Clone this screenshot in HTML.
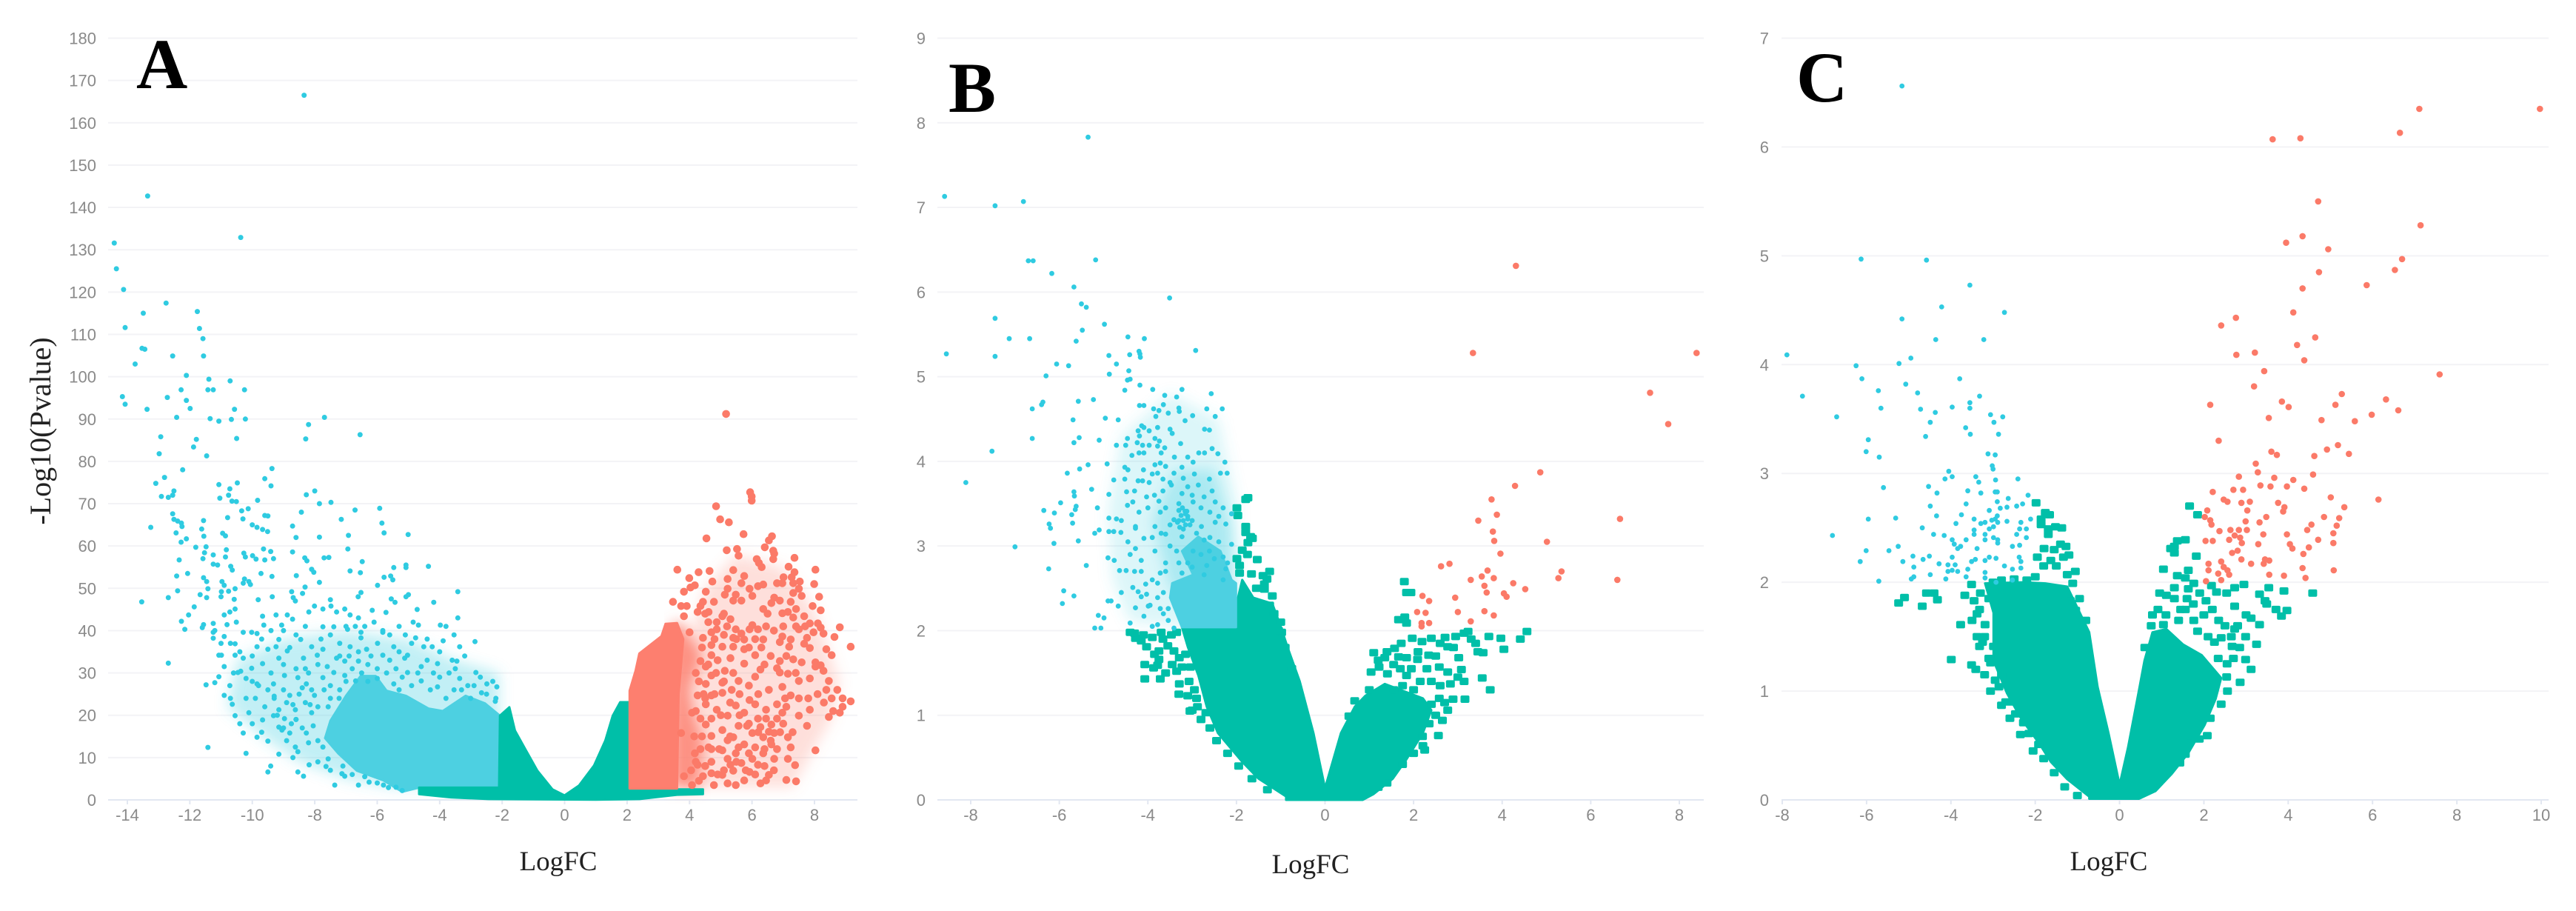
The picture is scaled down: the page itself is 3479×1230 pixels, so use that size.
<!DOCTYPE html>
<html lang="en">
<head>
<meta charset="utf-8">
<title>Volcano plots A, B and C</title>
<style>
html,body{margin:0;padding:0;background:#fff;width:3479px;height:1230px;overflow:hidden}
svg{display:block}
.tick{font-family:"Liberation Sans",sans-serif;font-size:22px;fill:#8a8a8a}
.axis-title{font-family:"Liberation Serif",serif;fill:#222}
.panel-letter{font-family:"Liberation Serif",serif;font-weight:bold;font-size:96px;fill:#000}
</style>
</head>
<body>
<svg id="chart" xmlns="http://www.w3.org/2000/svg" width="3479" height="1230" viewBox="0 0 3479 1230">
<defs><filter id="soft-density" x="-20%" y="-20%" width="140%" height="140%"><feGaussianBlur stdDeviation="9"/></filter></defs>
<rect x="0" y="0" width="3479" height="1230" fill="#ffffff"/>
<g id="panel-a"></g>
<g id="panel-b"></g>
<g id="panel-c"></g>
<text class="panel-letter" x="184" y="119">A</text>
<text class="panel-letter" x="1281" y="151">B</text>
<text class="panel-letter" x="2426" y="137">C</text>
<text class="axis-title" font-size="40" text-anchor="middle" transform="translate(68,582) rotate(-90)">-Log10(Pvalue)</text>
<text class="axis-title" font-size="37" text-anchor="middle" x="754" y="1175">LogFC</text>
<text class="axis-title" font-size="37" text-anchor="middle" x="1770" y="1179">LogFC</text>
<text class="axis-title" font-size="37" text-anchor="middle" x="2848" y="1175">LogFC</text>
</svg>
<script>
const panelAXTicks=[-14,-12,-10,-8,-6,-4,-2,0,2,4,6,8];
const panelAYTicks=[0,10,20,30,40,50,60,70,80,90,100,110,120,130,140,150,160,170,180];
const panelBXTicks=[-8,-6,-4,-2,0,2,4,6,8];
const panelBYTicks=[0,1,2,3,4,5,6,7,8,9];
const panelCXTicks=[-8,-6,-4,-2,0,2,4,6,8,10];
const panelCYTicks=[0,1,2,3,4,5,6,7];

const panelANsAreaX=[-2.1,-2.07,-1.77,-1.59,-1.23,-0.87,-0.39,0,0.46,0.94,1.3,1.54,1.78,2.08,2.08,3.64,4.43,4.43,3.6,2.4,1,-2.43,-3.64,-4.66,-4.66,-2.1];
const panelANsAreaY=[2.9,19.9,21.9,16.4,11.6,6.9,2.5,1.06,3.4,8.1,14,19.9,23.1,23.1,2.5,2.5,2.5,1.35,1.2,0.2,0.05,0.2,0.6,1.35,2.9,2.9];
const panelADownAreaX=[-2.1,-4.66,-5.2,-5.8,-6.65,-7.25,-7.67,-7.5,-7,-6.53,-6.05,-5.7,-5.08,-4.36,-3.9,-3.17,-2.55,-2.07];
const panelADownAreaY=[2.9,2.9,1.9,4.6,6.9,11,14.6,18.7,24.6,29.3,29.3,25.8,24.6,21.6,21,24.6,22.8,19.9];
const panelADownHaloX=[-2.1,-2.1,-3.5,-5,-7,-9,-10.5,-10.8,-9.5,-8.5,-7,-5.5];
const panelADownHaloY=[3,30,33,38,40,38,33,22,14,9,5,3];
const panelAUpAreaX=[2.08,2.08,2.27,2.39,3.1,3.23,3.6,3.8,3.65,3.6];
const panelAUpAreaY=[2.7,25.8,30.5,34.6,38.7,41.6,41.8,38,25,2.7];
const panelAUpBandX=[3.4,4.35,4.45,4.2,4.05,4.4,4.15,3.7,3.4];
const panelAUpBandY=[2.7,2.7,14,20,26,34,37.5,42.2,41];
const panelAUpHaloX=[4.3,7.3,8.6,8.8,8,7,5.5,4.5,4];
const panelAUpHaloY=[3,3,20,28,45,55,58,50,38];

const panelADownX=[
-8.34,-13.35,-10.37,-14.42,-14.35,-14.12,-12.76,-13.49,-11.76,-14.07,
-11.69,-11.58,-13.53,-13.44,-12.55,-11.56,-13.75,-12.11,-11.39,-10.71,
-12.28,-11.42,-11.25,-10.25,-14.16,-12.72,-14.07,-12.11,-11.99,-13.37,
-10.57,-12.42,-11.35,-11.07,-10.67,-10.22,-7.69,-8.2,-6.55,-12.93,
-11.79,-10.5,-8.29,-11.88,-12.98,-11.46,-9.37,-12.23,-13.09,-12.81,
-9.6,-10.48,-11.07,-9.4,-8,-8.27,-10.72,-12.51,-12.55,-12.91,
-12.69,-11.04,-10.76,-10.65,-10.51,-9.83,-7.85,-7.48,-5.92,-6.71,
-10.13,-10.34,-10.3,-8.43,-9.6,-9.5,-12.55,-12.51,-12.39,-12.27,
-12.25,-10.79,-7.15,-5.85,-11.56,-10,-9.85,-9.67,-9.51,-8.71,
-13.25,-11.62,-12.44,-10.95,-10.86,-5.78,-5.01,-6.92,-7.85,-11.55,
-8.6,-12.11,-12.28,-11.81,-11.48,-6.94,-9.64,-9.41,-10.83,-8.71,
-11.53,-10.27,-10.22,-11.25,-10.86,-9.99,-9.88,-8.32,-8.25,-7.7,
-7.55,-11.58,-12.34,-9.32,-9.6,-6.48,-11.25,-11.11,-10.69,-10.64,
-5.08,-5.08,-5.47,-4.36,-8.1,-8.03,-6.87,-6.54,-12.07,-12.42,
-9.72,-9.37,-8.59,-5.78,-5.57,-5.5,-11.56,-11.46,-10.25,-10.11,
-10.29,-10.06,-10.97,-10.9,-7.85,-5.99,-8.31,-11.42,-10.99,-10.76,
-10.55,-12.39,-3.42,-8.74,-8.39,-6.52,-6.61,-5,-5.08,-11.67,
-11.46,-12.69,-11,-13.54,-4.19,-10.58,-9.81,-9.36,-8.69,-8.62,
-7.5,-5.55,-5.43,-11.86,-12.04,-12.27,-12.16,-11.6,-11.56,-11.25,
-11.25,-10.9,-10.72,-10.55,-10.81,-10.51,-9.67,-9.63,-9.24,-9.06,
-8.88,-8.71,-8.01,-8.19,-7.74,-7.48,-7.3,-7.04,-6.87,-6.6,
-6.16,-5.72,-4.72,-7.74,-7.39,-6.95,-6.52,-5.82,-4.85,-4.68,
-3.98,-3.8,-3.42,-11.25,-10.9,-10.55,-10.29,-10.02,-9.85,-10.55,
-11.07,-10.29,-9.85,-9.5,-9.24,-9.15,-8.88,-8.45,-8.1,-7.74,
-7.3,-7.04,-6.87,-6.52,-6.34,-5.99,-5.82,-5.47,-5.03,-4.77,
-4.51,-4.24,-3.89,-3.54,-3.36,-2.87,-3.45,-4.07,-4.59,-5.12,
-5.82,-6.6,-7.92,-8.36,-9.15,-9.67,-10.02,-10.37,-10.99,-10.9,
-11.07,-10.46,-10.2,-9.85,-9.5,-10.72,-10.9,-10.64,-10.55,-10.11,
-9.67,-9.32,-8.97,-8.8,-8.54,-8.27,-8.01,-7.74,-7.39,-7.04,
-6.69,-6,-5.47,-5.03,-4.59,-4.07,-3.36,-2.84,-2.49,-2.17,
-3.54,-3.01,-2.66,-2.22,-8.62,-9.15,-8.1,-7.57,-7.22,-10.29,
-9.85,-10.2,-9.5,-9.15,-9.5,-9.41,-8.54,-8.36,-8.18,-8.54,
-7.36,-6.6,-9.15,-8.8,-8.27,-9.32,-8.97,-8.62,-7.64,-7.04,
-6.26,-5.64,-5.2,-11.42,-12.69,-11.48,-11.2,-7.13,-7.57,-7.74,
-8.4,-8.9,-9.3,-8.3,-8.6,-8.05,-7.9,-8.75,-9.05,-8.15
];
const panelADownY=[
166.5,142.7,132.9,131.6,125.5,120.6,117.4,115,115.4,111.6,
111.4,109,106.7,106.5,104.9,104.9,103,100.3,99.4,99,
96.9,96.9,96.9,96.9,95.3,95.1,93.5,94.4,92.5,92.3,
92.3,90.4,90.1,89.5,89.9,90,90.4,88.7,86.3,85.8,
85.2,85.4,85.3,83.4,81.8,81.3,78.3,78,74.8,76.2,
75.9,74.9,74.5,74.2,73,72.1,73.5,73,72,71.7,
71.5,71.3,72,70.6,70.5,70.8,70,70.3,68.9,68.5,
68.8,68.3,66.4,68,67.2,67.1,67.6,66.3,65.9,65.4,
64.6,66.7,66.3,65.4,66,65,64.4,63.9,63.4,64.7,
64.4,64,63.1,63,62.4,63.1,62.7,62.5,62.1,62.3,
62,61.7,60.9,59.7,59.8,59.3,59.3,58.7,59.1,58.6,
58.4,58.3,57.4,57.9,57.4,57.7,56.9,57.2,56.5,57.2,
57.3,57,56.7,57,56.7,56.3,55.7,55.5,55.2,54.3,
55.5,54.9,54.9,55.2,54.5,53.8,54.1,53.7,53.5,52.9,
53.5,52.8,53,52.6,52.9,52,52.5,51.6,52.2,51.6,
51.2,50.9,51.6,50.7,51.4,50.7,50.3,49.9,49.2,49.3,
49.9,49.4,49.2,49.2,48.8,49,48,48.5,48,48.5,
47.8,47.8,48,46.8,46.7,47.4,47.3,48,47.8,47,
47.3,47.5,46.7,45.6,43.7,42.2,40.3,40.7,41.4,41.7,
39.6,43.7,44.4,45.1,41.4,42,43.4,41.3,43.7,41.3,
43.7,42.7,45.8,44.4,45.1,45.8,44.4,45.1,43.7,43,
44.8,44.3,45,40.9,40.9,40.3,39.6,40,42,41.3,
41.3,41,43,38.2,38.6,36.9,39.6,39.6,39.3,34.2,
34.2,33.5,36.2,35.6,36.2,37.9,35.2,37.9,36.2,35.6,
33.5,32.8,36.2,38.3,35.6,37,39.6,36.2,34.2,38.3,
36.2,36.2,37.6,39,36.2,37.4,32.8,32.2,31.5,33.5,
34.2,32.8,34.2,33.5,33.5,32.2,31.1,30.4,34.2,31.5,
29.1,30.1,28.7,27.4,26,27,24.7,22.6,19.9,20.6,
18.9,27.4,29.4,24.7,28.9,27.4,24.7,28.9,30.1,29.4,
28.1,28.7,27.4,30.1,28.1,26.7,28.7,30.1,27.4,26.7,
26,24,25.3,23.3,21.3,21.3,20.6,22,24,15.8,
14.8,11,13.9,10.8,6.6,8,6.6,5.6,8.3,11.4,
3.5,3.5,17.2,15.8,15.8,19.9,19.2,12.5,7.9,5.6,
4.2,2.9,2.2,12.4,32.3,27.2,27.7,6.2,9.7,12.5,
26.5,23,24,31,19,17.5,14,18,16.5,22.5
];
const panelADownExtraX=[
-9.9,-9.6,-9.3,-9,-8.7,-8.5,-8.3,-8.1,-7.9,-7.7,
-7.5,-7.2,-7,-6.8,-6.5,-6.3,-6,-5.7,-5.4,-5.2,
-4.9,-4.7,-4.4,-4.2,-4,-3.7,-3.5,-3.3,-3.1,-2.9,
-2.7,-2.5,-2.3,-2.2,-3.8,-4.3,-5.3,-6.3,-7.5,-8.6,
-9,-8.4,-8.9,-8.2,-8.7,-7.9,-7.5,-7.1,-6.8,-6.4,
-6,-5.8,-5.4,-9.7,-10,-10.4,-10.7,-10.2,-9.8,-9.4,
-9,-8.6,-8.2,-7.9,-7.6,-7.2,-6.9,-6.6,-6.2,-5.6,
-5.3,-4.9,-4.4,-4,-3.6,-3.2,-10,-9.7,-9.4,-9,
-8.6,-8.3,-7.8,-7.5,-7.2,-7,-6.7,-6.4,-6.1,-5.6,
-5.3,-5.1,-10.6,-10,-9.2,-11.2,-11,-10.7,-10.4,-8.8
];
const panelADownExtraY=[
24,22,24.5,26,22.5,25,23,26,22,26,
27,26,28,31,30,32,31,30,31,29,
27,30,33,30,29,30,31,26,27,27,
29,25,28,24,24,26,26,28,24,19,
17,17,14,13.5,10,9,7,8,6,5.5,
4,3.5,3,16,18,18,24,24,27,30,
32,31,30,32,31.5,34,34,35,34,33,
35,37,38,35,33,34,34,38,40,40,
39,41,38,39,37,41,41,41,42,39,
41,39,30,28,20,40,37,37,35,36
];
const panelAUpX=[
5.17,5.94,5.99,5.99,4.85,4.98,5.26,5.73,6.64,6.54,
6.41,4.54,5.52,5.19,6.68,6.71,6.68,5.57,6.15,6.22,
6.31,7.36,7.17,7.36,8.03,3.61,4.29,4.64,5.4,3.99,
4.73,5.22,5.75,5.66,7.01,6.97,7.27,7.32,7.53,7.99,
8.15,4.17,4.03,6.36,6.19,5.92,6.8,3.82,4.52,5.22,
5.13,5.48,7.5,7.32,7.59,6.01,6.71,6.89,6.62,7.24,
3.47,3.73,3.91,4.43,4.78,4.35,4.61,4.26,5.66,5.4,
7.94,8.2,7.41,7.15,6.97,3.82,5.05,5.31,4.87,6.36,
7.32,7.67,7.85,8.11,8.2,8.81,8.64,9.16,6.01,6.19,
5.48,5.66,5.92,6.45,7.41,7.5,7.97,8.29,8.38,8.55,
4.87,4.7,5.4,5.75,6.36,6.97,7.24,7.76,4.7,5.05,
5.4,5.75,6.1,6.89,7.19,7.67,7.85,4.7,5.31,5.75,
6.89,6.8,7.32,7.59,8.03,8.2,4.52,5.13,6.27,6.89,
7.15,8.03,8.29,4.52,5.05,5.57,6.1,6.97,7.5,7.85,
8.46,4.7,5.05,5.92,6.54,7.06,8.38,8.73,4.52,4.87,
5.48,6.1,6.8,7.24,8.55,8.9,9.16,4.7,5.22,5.75,
6.45,6.97,7.5,7.85,8.46,8.81,7.76,4.52,5.05,5.57,
6.19,6.62,7.15,6.01,6.71,6.36,4.7,5.22,5.75,4.61,
5.05,5.48,6.1,6.62,7.24,8.03,4.17,4.26,4.7,5.31,
6.01,6.71,7.38,4.43,4.78,5.22,5.48,5.75,6.27,6.45,
6.54,7.1,7.41,5.92,5.4,5.05,4.7,3.82,4.08,3.73,
4.35,4.08,4.26,4.7,4.35,4.43,4,6.45,6.8,6.27,
6.54,5.84,5.4,5.57,5.22,5.66,6.19,6.36,7.15,4.2,
4.45,4.15,4.35,4.5,4.05,4.3,4.85,4.95,5.1,5.35
];
const panelAUpY=[
91.2,72.7,71.7,70.7,69.4,66.3,65.6,62.8,62.3,61.3,
59.7,61.8,59.3,59,58.9,58.2,56.9,57.7,56.9,56,
55,57.2,55.1,53.8,54.4,54.4,53.8,54.1,54.3,52.4,
51.6,52.2,52.9,51.2,52.6,51.2,52.6,51.2,51.6,51,
48,50.7,50.2,50.9,50.5,49.9,51.2,49.2,49.2,49.9,
48.5,48.5,49.9,48.9,48.2,48.2,47.8,47.1,46.5,46.8,
46.8,45.8,45.8,46.8,46.8,45.8,44.4,44.4,47.1,47.1,
45.8,44.8,45.1,44.4,44.1,43.4,43.4,42.7,42,45.1,
43.1,43.4,41.7,41.7,40.7,40.8,38.5,36.2,41.3,40.3,
40.3,39.3,40.3,41,41,40.3,39.6,39.3,35.6,34.2,
40.3,39.6,38.3,37.9,37.9,38.6,37.9,38.3,36.6,36.2,
36.2,35.6,34.2,37.3,36.2,36.9,35.9,34.2,33.5,32.2,
32.8,31.1,33.2,32.5,32.5,31.8,31.5,30.5,30.8,30.1,
29.8,31.5,30.5,27.4,27.7,28.1,29.1,26.7,28.1,28.7,
28.1,24.7,25.3,23.6,26,24,26,26,22.6,21.3,
22.3,22.6,22.6,24.7,24,24,23.3,19.2,19.9,20.6,
21.3,20.6,19.9,21.3,19.6,20.6,17.5,17.8,16.5,17.5,
19.2,17.8,14.8,15.8,15.8,14.8,15.1,14.1,13.1,12.4,
11.7,11,12.4,13.1,12.4,11.7,11,8.3,9,8.3,
9.7,9.7,8.2,5.6,3.5,3.9,3.5,4.6,3.9,4.6,
5.9,4.7,4.4,6.6,6.9,5.9,6.3,5.6,3.5,15.8,
19.2,20.6,24.7,29.4,32.8,38.3,39.6,19.2,19.2,17.2,
16.1,17.5,14.8,12.4,9.7,8.7,8.3,11,9.7,30,
25,15,12,8,7,4.5,30,12,7,26
];
const panelAUpExtraX=[
4.4,4.6,4.9,4.3,4.5,4.8,4.2,4.4,4.7,4.2,
4.5,4.9,5,5.3,5.1,5.4,5.6,5.9,6.2,5.6,
5.3,5.9,6.2,6.6,6.9,6.4,6.8,5.9,5.5,5.8,
6.1,6.4,6.7,7,7.3,7.1,7.5,7.8,8.1,8.3,
8.6,8.9,7.4,7.1,6.6,6.3,5.9,5.5,5.1,4.8,
4.6,5.2,6.7,7,7.7,6.1,6.4,5.1,4.5,6.5
];
const panelAUpExtraY=[
36,32,33,28,24,25,21,15,12,9,
8,6,20,23,28,30,25,27,25,20,
15,18,16,14,16,12,12,11,9,7,
6,8,7,18,16,22,24,24,25,23,
21,22,30,34,34,36,36,38,39,38,
42,41,40,41,41,38,32,44,44,44
];

const panelBNsAreaX=[0,-0.26,-0.57,-0.85,-1,-1.19,-1.62,-1.87,-2.01,-2.01,-3.23,-3.1,-2.86,-2.67,-2.42,-1.87,-1.5,-0.88,-0.88,0.85,1.1,1.53,1.84,2.21,2.4,2.21,1.35,0.91,0.67,0.36];
const panelBNsAreaY=[0.14,0.79,1.4,1.81,2.05,2.32,2.39,2.6,2.29,2.04,2.04,1.81,1.47,1.1,0.79,0.45,0.25,0.04,0,0,0.07,0.25,0.48,0.79,1.06,1.2,1.37,1.23,1.1,0.79];
const panelBDownAreaX=[-2.01,-3.23,-3.5,-3.45,-2.98,-3.23,-2.86,-2.36,-2.11,-2.01];
const panelBDownAreaY=[2.04,2.04,2.39,2.56,2.66,2.94,3.11,2.94,2.6,2.56];
const panelBDownHaloX=[-2,-3.3,-4.4,-4.8,-4.9,-4.6,-3.5,-2.4,-2];
const panelBDownHaloY=[2.05,2.05,2.1,2.6,3.4,4.3,4.8,4.5,3.5];
const panelBDownCoreX=[-2.05,-3.5,-3.9,-3.4,-2.5,-2.1];
const panelBDownCoreY=[2.05,2.5,3.3,3.9,3.9,3.2];
const panelBNsX=[
-1.79,-1.74,-1.99,-1.97,-1.79,-1.79,-1.68,-1.64,-1.74,-1.87,
-1.99,-1.53,-1.93,-1.93,-1.66,-1.25,-1.31,-1.37,-1.37,-1.19,
-1.5,-1,-0.98,-4.4,-4.28,-4.15,-4.03,-3.75,-3.66,-3.47,
-3.35,-3.75,-3.78,-4.07,-3.87,-4.07,-3.72,-3.41,-3.29,-3.23,
-3.35,-3.04,-3.29,-3.07,-3.1,-3,-2.88,-2.69,1.79,1.84,
1.94,1.66,1.8,1.84,1.1,1.57,1.72,1.97,2.19,2.4,
2.71,2.95,3.14,3.23,3.7,3.97,4.56,4.41,4.04,3.45,
3.57,3.02,2.77,2.34,2.09,1.84,1.66,1.35,1.22,1.04,
1.41,1.84,2.15,2.58,2.77,3.08,3.55,3.73,3.14,2.83,
2.58,2.89,3.16,2.77,2.65,2.56,2.21,2.25,2.4,0.67,0.54
];
const panelBNsY=[
3.55,3.57,3.45,3.36,3.23,3.16,3.11,3.09,3.04,2.95,
2.85,2.84,2.77,2.68,2.67,2.7,2.61,2.55,2.49,2.41,
2.27,2.1,1.98,1.98,1.91,1.88,1.81,1.76,1.9,1.95,
1.98,1.66,1.59,1.6,1.56,1.43,1.43,1.76,1.68,1.57,
1.52,1.57,1.37,1.4,1.23,1.06,1.1,1.03,2.58,2.45,
2.45,2.13,2.16,2.09,1.74,1.79,1.85,1.91,1.87,1.91,
1.92,1.93,1.97,1.99,1.93,1.91,1.99,1.9,1.78,1.75,
1.74,1.68,1.81,1.71,1.66,1.68,1.69,1.68,1.57,1.51,
1.49,1.47,1.4,1.57,1.51,1.54,1.44,1.3,1.4,1.37,
1.2,1.19,1.19,1.06,0.94,0.76,0.64,0.59,1.13,1.17,0.99
];
const panelBNsExtraX=[
-4.3,-4.1,-3.9,-3.7,-3.55,-3.45,-3.15,-3.6,-3.85,-3.3,
-2.95,-2.8,-2.6,-2.45,-2.2,-1.95,-1.65,-1.3,-2.9,-3.05,
-1.55,-1.25,-1.15,-1.05,-0.9,-0.75,-1.4,-1.75,1.2,1.4,
1.55,1.7,1.95,2.1,2.3,2.5,2.6,2.9,3.3,3.4,
3,2.6,2.4,2,1.75,1.55,2.7,2.5,2.35,2.2,
2,1.75,1.4,1.2,0.8,1
];
const panelBNsExtraY=[
1.97,1.95,1.92,1.98,1.82,1.6,1.72,1.5,1.72,1.25,
1.3,0.95,0.85,0.7,0.55,0.4,0.25,0.12,1.2,1.05,
2.5,2.3,2.2,2,1.8,1.55,2.65,2.9,1.65,1.75,
1.6,1.55,1.55,1.75,1.55,1.7,1.85,1.8,1.9,1.85,
1.45,1.35,1.4,1.3,1.35,1.3,1.15,1,0.9,0.75,
0.55,0.42,0.2,0.15,1.1,1.3
];
const panelBDownX=[
-5.35,-8.59,-7.45,-6.81,-6.7,-6.59,-5.18,-6.17,-5.67,-3.51,
-5.5,-5.39,-7.45,-4.98,-5.48,-4.45,-4.08,-7.13,-6.67,-5.62,
-8.55,-7.45,-2.92,-4.2,-4.18,-4.17,-4.41,-4.88,-6.06,-5.79,
-4.71,-6.3,-4.87,-4.43,-4.46,-4.4,-4.18,-3.89,-3.23,-4.52,
-2.57,-3.62,-3.35,-5.23,-5.57,-6.37,-6.4,-6.61,-4.19,-4.09,
-3.65,-3.3,-3.87,-3.75,-2.67,-2.32,-3.29,-3.54,-2.99,-3.82,
-2.48,-5.69,-4.96,-4.67,-3.16,-4.14,-4.09,-4.22,-3.97,-3.78,
-3.5,-2.72,-2.61,-3.45,-6.61,-5.55,-4.46,-4.19,-3.84,-3.74,
-5.1,-5.67,-4.24,-3.26,-4.71,-4.5,-4.12,-3.97,-3.78,-3.62,
-7.52,-2.72,-2.42,-4.09,-4.36,-8.11,-7,-5.82,-5.54,-5.35,
-4.77,-4.52,-4.92,-4.52,-4.22,-4.12,-5.27,-5.67,-5.66,-4.88,
-4.48,-5.97,-5.62,-5.14,-6.35,-6.11,-5.72,-5.64,-4.88,-4.71,
-6.23,-6.2,-5.7,-4.28,-5.2,-5.1,-4.88,-4.77,-4.61,-6.12,
-5.57,-5.39,-6.24,-4.9,-4.76,-4.64,-4.49,-5.9,-5.67,-5.93,
-4.9,-4.83,-4.67,-5.12,-4.99,-5.2,-5.06,-3.84,-3.72,-3.6,
-2.98,-2.26,-2.36,-2.21,-2.61,-3.23,-3.41,-3.78,-3.66,-3.97,
-3.47,-3.1,-2.86,-2.55,-2.73,-3.23,-3.66,-4.03,-3.75,-4.34,
-4.46,-2.98,-2.48,-2.3,-2.11,-3.16,-3.72,-3.41,-3.1,-2.79,
-2.48,-2.24,-3.84,-4.28,-4.09,-3.6,-3.23,-2.73,-2.11,-4.28,
-3.84,-3.35,-2.98,-2.61,-2.3,-4.4,-4.15,-3.6,-3.1,-2.67,
-2.24,-4.15,-3.72,-3.23,-2.73,-2.3,-3.78,-4.34,-4.22,-4.03,
-3.78,-4.28,-3.99,-3.72,-4.09,-4.4,-3.78,-3.54,-3.41,-3.54,
-3.3,-3.25,-3.2,-3.15,-3.1,-3.33,-3.05,-3.22,-3.12,-3.28
];
const panelBDownY=[
7.83,7.13,7.02,7.07,6.37,6.37,6.38,6.22,6.06,5.93,
5.86,5.82,5.69,5.62,5.55,5.47,5.45,5.45,5.45,5.42,
5.27,5.24,5.31,5.3,5.27,5.23,5.26,5.25,5.15,5.13,
5.15,5.01,5.03,5.07,4.96,4.97,4.9,4.85,4.85,4.84,
4.8,4.78,4.76,4.73,4.71,4.7,4.67,4.62,4.66,4.66,
4.67,4.63,4.62,4.6,4.62,4.62,4.59,4.57,4.54,4.53,
4.53,4.49,4.51,4.49,4.48,4.42,4.4,4.36,4.36,4.4,
4.38,4.38,4.37,4.33,4.27,4.28,4.27,4.3,4.27,4.24,
4.25,4.22,4.22,4.21,4.19,4.19,4.19,4.19,4.18,4.16,
4.12,4.1,4.09,4.1,4.07,3.75,2.99,3.86,3.91,3.96,
3.78,3.79,3.97,3.93,3.77,3.77,3.67,3.64,3.59,3.61,
3.64,3.51,3.47,3.45,3.42,3.39,3.37,3.43,3.33,3.32,
3.26,3.21,3.27,3.23,3.15,3.19,3.17,3.17,3.16,3.03,
3.06,2.77,2.73,2.86,2.83,2.71,2.71,2.47,2.41,2.32,
2.35,2.35,2.29,2.18,2.15,2.03,2.03,3.96,3.98,3.94,
3.99,3.99,3.86,3.86,3.79,3.93,3.86,3.86,3.79,3.75,
3.72,3.7,3.72,3.65,3.58,3.62,3.65,3.58,3.53,3.52,
3.48,3.52,3.52,3.45,3.38,3.41,3.4,3.31,3.35,3.23,
3.28,3.26,3.23,3.21,3.09,3.14,3.11,3.07,3.02,2.97,
2.94,2.94,2.94,2.94,2.87,2.9,2.83,2.8,2.8,2.77,
2.73,2.7,2.68,2.68,2.66,2.6,2.56,2.51,2.46,2.43,
2.39,2.27,2.29,2.26,2.17,2.09,2.07,2.12,2.03,2.26,
3.42,3.36,3.3,3.38,3.32,3.28,3.25,3.45,3.41,3.22
];
const panelBDownExtraX=[
-3.9,-3.6,-3.3,-3,-2.8,-2.5,-2.2,-3.5,-3.2,-3.3,
-3.15,-3,-2.9,-2.6,-2.4,-3.9,-3.7,-3.5,-3.6,-3.3,
-3,-2.8,-2.6,-2.4,-4.2,-4,-3.85,-3.5,-3.2,-2.95,
-4.1,-3.9,-3.4,-3.1,-2.85,-3.7,-4.2,-2.55,-4.45,-4.3,
-4.6,-4.45,-4.3,-4.05,-3.95,-4.15,-3.65,-3.9,-3.65,-4.6
];
const panelBDownExtraY=[
2.6,2.7,2.8,2.75,2.9,2.85,2.8,3,3.2,3.3,
3.25,3.3,3.15,3.1,3.05,3.1,3.15,3.25,3.45,3.5,
3.6,3.45,3.4,3.35,3.4,3.45,3.6,3.75,3.8,3.85,
3.9,3.85,4.05,4.05,4.1,4.1,4.1,4.15,3.9,3.65,
3.3,3.05,2.7,2.55,2.3,2.4,2.45,2.05,2.2,2.45
];
const panelBUpX=[
4.31,3.34,8.39,7.34,7.75,4.86,4.29,3.76,3.88,3.46,
6.66,3.79,3.82,5.01,3.96,2.81,2.62,5.34,3.67,3.54,
3.29,3.81,5.27,6.6,4.25,3.6,4.52,3.65,4.04,4.1,
2.2,2.94,2.35,3,3.6,2.08,2.27,3.81,3.29,2.35,
2.18,2.18
];
const panelBUpY=[
6.31,5.28,5.28,4.81,4.44,3.87,3.71,3.55,3.37,3.3,
3.32,3.17,3.06,3.05,2.91,2.79,2.76,2.7,2.71,2.64,
2.6,2.62,2.62,2.6,2.56,2.53,2.49,2.45,2.44,2.4,
2.41,2.39,2.35,2.22,2.23,2.22,2.21,2.18,2.11,2.09,
2.09,2.05
];

const panelCNsAreaX=[0,-0.26,-0.52,-0.72,-0.98,-1.24,-1.76,-2.28,-3.19,-2.99,-2.99,-2.67,-2.34,-1.89,-1.63,-1.24,-0.72,-0.72,0.46,0.85,1.24,1.63,2.02,2.28,2.41,1.95,1.5,1.11,0.78,0.59,0.46,0.2];
const panelCNsAreaY=[0.14,0.61,1.04,1.54,1.75,1.96,1.99,2,1.99,1.72,1.28,0.98,0.75,0.51,0.35,0.19,0.03,0.01,0.01,0.08,0.24,0.43,0.69,0.93,1.12,1.33,1.43,1.57,1.54,1.28,1.01,0.48];
const panelCNsX=[
-1.98,-1.76,-1.66,-1.86,-1.86,-1.69,-1.52,-1.37,-1.69,-1.27,
-1.79,-1.95,-1.33,-1.63,-1.5,-1.24,-1.11,-1.17,-1.04,-5.24,
-5.1,-4.68,-4.58,-4.4,-4.32,-3.51,-3.67,-3.45,-3.32,-3.77,
-3.38,-3.19,-3.38,-3.25,-3.32,-3.99,-3.51,-3.41,-3.06,-3.06,
-2.86,-2.8,-2.54,-2.47,-2.28,-2.15,-1.92,-2.99,1.66,1.85,
1.56,1.37,1.3,1.21,1.3,1.82,1.04,1.37,1.63,1.56,
1.76,2.18,1.63,1.11,1.56,0.91,0.78,1.04,1.76,2.05,
2.3,2.54,2.73,2.95,2.73,3.32,3.54,3.9,4.58,3.49,
3.71,3.97,3.84,3.12,3.32,2.73,2.99,3.25,2.67,2.99,
3.12,2.54,2.86,2.56,2.41,2.15,2.08,1.89,1.65,1.56,
1.43,1.11,3.45,2.41,2.34
];
const panelCNsY=[
2.73,2.64,2.62,2.58,2.53,2.49,2.51,2.5,2.44,2.33,
2.31,2.23,2.23,2.2,2.15,2.07,1.99,1.83,1.74,1.81,
1.86,1.78,1.9,1.9,1.84,1.98,1.88,1.83,1.75,1.61,
1.71,1.61,1.5,1.45,1.41,1.29,1.24,1.2,1.26,1,
1.04,0.87,0.9,0.79,0.71,0.61,0.51,1.41,2.7,2.62,
2.39,2.38,2.33,2.31,2.27,2.24,2.12,2.06,2.11,2.04,
1.99,1.97,1.94,1.88,1.75,1.75,1.7,1.61,1.65,1.83,
1.91,1.9,1.95,1.98,1.78,1.89,1.95,1.92,1.9,1.8,
1.75,1.74,1.69,1.67,1.61,1.57,1.5,1.43,1.41,1.29,
1.2,1.13,1.08,1,0.88,0.75,0.59,0.56,0.52,0.42,
0.34,0.27,1.83,1.49,1.3
];
const panelCNsExtraX=[
-3.3,-3.1,-3.5,-3.2,-3.1,-3.2,-2.95,-2.8,-2.7,-2.6,
-2.35,-2.05,-1.8,-1.55,-1.3,-1,-0.8,-0.95,-1.05,-1.2,
-1.4,-1.55,-1.8,-2,-2.2,-2.5,-2.8,-3,0.95,1.1,
1.3,1.45,1.6,1.75,1.9,2,2.2,2.35,2.5,2.65,
2.8,3,2.85,2.7,2.55,1.4,2.25,2.1,1.85,1.3,0.75,0.6
];
const panelCNsExtraY=[
1.9,1.85,1.65,1.5,1.3,1.15,1.1,1.15,0.9,0.75,
0.6,0.45,0.38,0.25,0.12,0.04,1.65,1.85,2.1,2.25,
2.35,2.3,2.15,2.05,2.02,2.03,2.02,2,1.9,1.7,
1.85,1.75,1.85,1.8,1.9,1.7,1.75,1.65,1.6,1.5,
1.6,1.7,1.4,1.3,1.25,1.65,1.45,1.5,1.55,1.95,1.6,1.4
];
const panelCDownX=[
-5.16,-6.13,-4.58,-3.55,-4.22,-2.73,-5.16,-4.36,-3.22,-7.89,
-4.95,-6.25,-5.23,-6.11,-3.79,-5.07,-5.72,-4.79,-7.52,-3.32,
-3.55,-5.66,-4.72,-3.97,-3.55,-4.37,-3.06,-2.77,-6.71,-4.49,
-2.98,-3.65,-3.54,-2.87,-4.6,-5.96,-6.01,-3.12,-2.95,-5.7,
-3.02,-3,-4.05,-4.14,-3.97,-3.41,-2.41,-3.34,-2.94,-5.6,
-4.53,-3.6,-4.33,-3.29,-2.95,-2.9,-2.17,-2.64,-2.9,-2.3,
-2.44,-3.64,-4.49,-3.09,-2.83,-2.67,-3.75,-4.34,-2.9,-2.95,
-3.45,-3.03,-5.96,-5.31,-2.11,-3.88,-3.19,-2.89,-2.67,-2.34,
-3.29,-4.68,-3.45,-3.09,-2.99,-2.37,-2.21,-6.81,-4.41,-4.16,
-3.45,-3.19,-2.44,-3.97,-3.64,-2.99,-3.19,-2.89,-2.21,-3.92,
-3.77,-3.38,-2.89,-2.54,-2.37,-5.25,-6.01,-5.47,-3.84,-6.15,
-5.14,-4.9,-4.66,-4.51,-4.88,-4.28,-3.97,-4.07,-3.9,-3.51,
-3.42,-3.19,-3.09,-2.93,-2.38,-2.34,-3.6,-3.97,-3.84,-4.07,
-4.49,-4.88,-4.94,-5.71,-3.64,-4.12,-3.19,-2.54,-2.34,-2.73,
-3.19,-2.93,-2.54
];
const panelCDownY=[
6.56,4.97,4.96,4.73,4.53,4.48,4.42,4.23,4.23,4.09,
4.06,3.99,4.01,3.87,3.87,3.82,3.76,3.74,3.71,3.71,
3.65,3.6,3.59,3.61,3.6,3.56,3.54,3.52,3.52,3.47,
3.47,3.42,3.36,3.36,3.34,3.31,3.2,3.18,3.17,3.15,
3.07,3.04,3.02,2.95,2.97,2.97,2.95,2.92,2.94,2.87,
2.88,2.84,2.82,2.82,2.83,2.83,2.8,2.77,2.74,2.72,
2.7,2.72,2.7,2.66,2.68,2.69,2.62,2.61,2.61,2.58,
2.58,2.57,2.58,2.59,2.58,2.54,2.55,2.55,2.56,2.55,
2.54,2.5,2.48,2.49,2.51,2.49,2.49,2.43,2.44,2.43,
2.44,2.44,2.44,2.39,2.39,2.41,2.39,2.39,2.41,2.35,
2.33,2.31,2.36,2.33,2.34,2.33,2.29,2.29,2.31,2.19,
2.19,2.24,2.21,2.24,2.14,2.17,2.23,2.16,2.16,2.19,
2.21,2.2,2.23,2.22,2.23,2.19,2.12,2.11,2.1,2.1,
2.07,2.05,2.03,2.01,2.05,2.03,2.04,2.12,2.13,2.15,
2.09,2,2.02
];
const panelCUpX=[
3.63,4.29,6.65,7.11,9.97,4.71,7.14,4.34,3.95,4.95,
6.7,6.53,4.73,5.86,4.34,4.12,2.76,2.41,4.64,4.21,
3.21,2.77,4.38,3.43,7.59,3.19,5.27,6.32,3.85,4.01,
2.15,5.12,6.61,5.98,3.54,4.79,5.58,2.35,5.18,4.92,
3.6,3.73,4.62,5.44,3.23,3.28,4.59,2.83,3.67,4.12,
3.34,3.58,3.97,2.21,2.7,2.93,4.38,5.01,6.14,2.47,
2.56,2.89,3.09,3.76,3.91,3.88,5.33,3.03,2.08,2.02,
3.48,4.85,5.21,2.15,2.18,2.99,3.32,4.55,5.15,2.63,
2.83,3.02,2.37,4.45,3.97,5.07,3.41,2.73,2.86,2.6,
4.71,5.07,2.04,2.21,2.9,3.29,4.04,4.1,4.49,4.36,
2.8,2.67,2.89,3.45,3.55,2.11,2.41,3.12,3.42,2.11,
2.47,2.56,4.34,5.08,2.34,2.6,3.55,3.9,4.41,2.05,2.41
];
const panelCUpY=[
6.07,6.08,6.13,6.35,6.35,5.5,5.28,5.18,5.12,5.06,
4.97,4.87,4.85,4.73,4.7,4.48,4.43,4.36,4.25,4.18,
4.11,4.09,4.04,3.94,3.91,3.8,3.73,3.68,3.66,3.61,
3.63,3.63,3.58,3.54,3.51,3.49,3.48,3.3,3.26,3.22,
3.2,3.17,3.16,3.18,3.09,3.01,2.99,2.97,2.96,2.94,
2.89,2.88,2.88,2.83,2.85,2.85,2.86,2.78,2.76,2.76,
2.74,2.73,2.74,2.73,2.69,2.65,2.69,2.66,2.66,2.6,
2.6,2.6,2.59,2.57,2.53,2.56,2.55,2.53,2.52,2.48,
2.48,2.48,2.47,2.48,2.44,2.45,2.44,2.43,2.41,2.39,
2.39,2.36,2.38,2.38,2.36,2.35,2.35,2.31,2.32,2.26,
2.29,2.27,2.21,2.21,2.2,2.17,2.19,2.17,2.17,2.11,
2.14,2.11,2.13,2.11,2.08,2.07,2.07,2.06,2.04,2.01,2.02
];

const SVG_NS="http://www.w3.org/2000/svg";
const DOWN_DOT="#2fcbe1";
const DOWN_AREA="#4dd0e1";
const UP_DOT="#fb7a68";
const UP_AREA="#fd7f6f";
const NS_GREEN="#00bfa8";

function linearScale(d0,d1,r0,r1){
  return function(v){return r0+(v-d0)*(r1-r0)/(d1-d0);};
}
function drawArea(g,xs,ys,sx,sy,color,name,opacity){
  const el=document.createElementNS(SVG_NS,"polygon");
  
  
  const pts=[];
  for(let i=0;i<xs.length;i++){pts.push(sx(xs[i]).toFixed(1)+","+sy(ys[i]).toFixed(1));}
  el.setAttribute("points",pts.join(" "));
  el.setAttribute("fill",color);
  if(opacity<1){
    el.setAttribute("fill-opacity",opacity);
    el.setAttribute("filter","url(#soft-density)");
  }else{
    el.setAttribute("stroke",color);
    el.setAttribute("stroke-width","3");
    el.setAttribute("stroke-linejoin","round");
  }
  g.appendChild(el);
}
function drawDots(g,xs,ys,sx,sy,color,r,name){
  const n=Math.min(xs.length,ys.length);
  for(let i=0;i<n;i++){
    const c=document.createElementNS(SVG_NS,"circle");
    
    
    c.setAttribute("cx",sx(xs[i]).toFixed(1));
    c.setAttribute("cy",sy(ys[i]).toFixed(1));
    c.setAttribute("r",r);
    c.setAttribute("fill",color);
    g.appendChild(c);
  }
}
function drawBlocks(g,xs,ys,sx,sy,color,name){
  const n=Math.min(xs.length,ys.length);
  for(let i=0;i<n;i++){
    const b=document.createElementNS(SVG_NS,"rect");
    
    
    b.setAttribute("x",(sx(xs[i])-6).toFixed(1));
    b.setAttribute("y",(sy(ys[i])-5).toFixed(1));
    b.setAttribute("width","12");
    b.setAttribute("height","10");
    b.setAttribute("rx","2");
    b.setAttribute("fill",color);
    g.appendChild(b);
  }
}
function drawAxes(g,xTicks,yTicks,sx,sy,left,right,labelRight){
  yTicks.forEach(function(t){
    const line=document.createElementNS(SVG_NS,"line");
    
    
    line.setAttribute("x1",left);
    line.setAttribute("x2",right);
    line.setAttribute("y1",sy(t));
    line.setAttribute("y2",sy(t));
    line.setAttribute("stroke",t===0?"#e2e7f1":"#f3f3f6");
    line.setAttribute("stroke-width","2");
    g.appendChild(line);
    const label=document.createElementNS(SVG_NS,"text");
    
    
    label.setAttribute("class","tick");
    label.setAttribute("x",labelRight);
    label.setAttribute("y",sy(t)+8);
    label.setAttribute("text-anchor","end");
    label.textContent=String(t);
    g.appendChild(label);
  });
  xTicks.forEach(function(t){
    const mark=document.createElementNS(SVG_NS,"line");
    
    
    mark.setAttribute("x1",sx(t));
    mark.setAttribute("x2",sx(t));
    mark.setAttribute("y1",sy(0));
    mark.setAttribute("y2",sy(0)+6);
    mark.setAttribute("stroke","#e2e7f1");
    mark.setAttribute("stroke-width","2");
    g.appendChild(mark);
    const label=document.createElementNS(SVG_NS,"text");
    
    
    label.setAttribute("class","tick");
    label.setAttribute("x",sx(t));
    label.setAttribute("y",1108);
    label.setAttribute("text-anchor","middle");
    label.textContent=String(t);
    g.appendChild(label);
  });
}

(function(){
  const g=document.getElementById("panel-a");
  const sx=linearScale(-14,8,172,1100);
  const sy=linearScale(0,180,1080,51.5);
  drawAxes(g,panelAXTicks,panelAYTicks,sx,sy,146,1158,130);
  drawArea(g,panelADownHaloX,panelADownHaloY,sx,sy,DOWN_AREA,'panel-a-down-sparse-density',0.35);
  drawArea(g,panelAUpHaloX,panelAUpHaloY,sx,sy,UP_AREA,'panel-a-up-sparse-density',0.25);
  drawArea(g,panelAUpBandX,panelAUpBandY,sx,sy,UP_AREA,'panel-a-up-mid-density',0.85);
  drawArea(g,panelADownAreaX,panelADownAreaY,sx,sy,DOWN_AREA,'panel-a-down-density',1);
  drawArea(g,panelANsAreaX,panelANsAreaY,sx,sy,NS_GREEN,'panel-a-not-significant-density',1);
  drawArea(g,panelAUpAreaX,panelAUpAreaY,sx,sy,UP_AREA,'panel-a-up-density',1);
  drawDots(g,panelADownX,panelADownY,sx,sy,DOWN_DOT,3.5,'panel-a-down-point');
  drawDots(g,panelADownExtraX,panelADownExtraY,sx,sy,DOWN_DOT,3.5,'panel-a-down-point');
  drawDots(g,panelAUpX,panelAUpY,sx,sy,UP_DOT,5.3,'panel-a-up-point');
  drawDots(g,panelAUpExtraX,panelAUpExtraY,sx,sy,UP_DOT,5.3,'panel-a-up-point');
})();
(function(){
  const g=document.getElementById("panel-b");
  const sx=linearScale(-8,8,1311,2268);
  const sy=linearScale(0,9,1080,51.5);
  drawAxes(g,panelBXTicks,panelBYTicks,sx,sy,1266,2301,1250);
  drawArea(g,panelBDownHaloX,panelBDownHaloY,sx,sy,DOWN_AREA,'panel-b-down-sparse-density',0.2);
  drawArea(g,panelBDownCoreX,panelBDownCoreY,sx,sy,DOWN_AREA,'panel-b-down-mid-density',0.35);
  drawArea(g,panelBNsAreaX,panelBNsAreaY,sx,sy,NS_GREEN,'panel-b-not-significant-density',1);
  drawArea(g,panelBDownAreaX,panelBDownAreaY,sx,sy,DOWN_AREA,'panel-b-down-density',1);
  drawBlocks(g,panelBNsX,panelBNsY,sx,sy,NS_GREEN,'panel-b-not-significant-point');
  drawBlocks(g,panelBNsExtraX,panelBNsExtraY,sx,sy,NS_GREEN,'panel-b-not-significant-point');
  drawDots(g,panelBDownX,panelBDownY,sx,sy,DOWN_DOT,3.4,'panel-b-down-point');
  drawDots(g,panelBDownExtraX,panelBDownExtraY,sx,sy,DOWN_DOT,3.4,'panel-b-down-point');
  drawDots(g,panelBUpX,panelBUpY,sx,sy,UP_DOT,4.3,'panel-b-up-point');
})();
(function(){
  const g=document.getElementById("panel-c");
  const sx=linearScale(-8,10,2407,3432);
  const sy=linearScale(0,7,1080,51.5);
  drawAxes(g,panelCXTicks,panelCYTicks,sx,sy,2406,3442,2389);
  drawArea(g,panelCNsAreaX,panelCNsAreaY,sx,sy,NS_GREEN,'panel-c-not-significant-density',1);
  drawBlocks(g,panelCNsX,panelCNsY,sx,sy,NS_GREEN,'panel-c-not-significant-point');
  drawBlocks(g,panelCNsExtraX,panelCNsExtraY,sx,sy,NS_GREEN,'panel-c-not-significant-point');
  drawDots(g,panelCDownX,panelCDownY,sx,sy,DOWN_DOT,3.4,'panel-c-down-point');
  drawDots(g,panelCUpX,panelCUpY,sx,sy,UP_DOT,4.3,'panel-c-up-point');
})();
</script>
</body>
</html>
